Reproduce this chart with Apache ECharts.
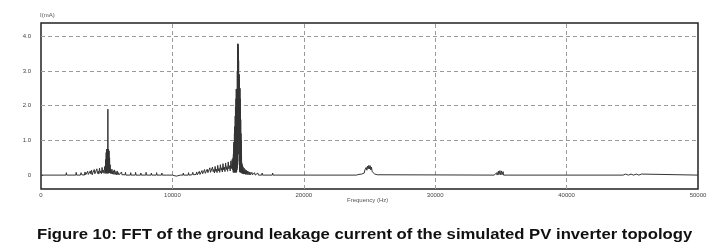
<!DOCTYPE html>
<html>
<head>
<meta charset="utf-8">
<script src="https://cdn.jsdelivr.net/npm/echarts@6/dist/echarts.min.js"></script>
<style>
html,body{margin:0;padding:0;background:#fff;}
#c{width:717px;height:251px;}
</style>
</head>
<body>
<div id="c"></div>
<script>
// Spectrum segments: [frequency (Hz), amplitude]
var noiseLow = [
[0,0],[1900,0],[1930,0.07],[1960,0],[2650,0],[2680,0.08],[2710,0],[3000,0],
[3050,0.07],[3100,0.01],[3150,0.03],[3200,0],[3300,0],[3350,0.09],[3400,0.01],[3450,0.04],[3500,0.01],
[3550,0.11],[3600,0.02],[3650,0.05],[3700,0.01],[3750,0.12],[3800,0.03],[3850,0.14],[3900,0.01],[3950,0.07],
[4000,0.02],[4050,0.16],[4100,0.04],[4150,0.09],[4200,0.02],[4250,0.18],[4300,0.05],[4350,0.11],[4400,0.03],
[4450,0.20],[4500,0.06],[4550,0.12],[4600,0.04],[4650,0.22],[4700,0.07],[4750,0.14],[4800,0.05],[4850,0.25]
];
var peak5k = [
[4880,0.30],[4900,0.05],[4920,0.45],[4940,0.08],[4960,0.65],[4980,0.05],[5000,0.75],[5020,0.08],[5040,0.75],
[5060,0.05],[5080,0.74],[5090,1.90],[5100,0.75],[5120,0.05],[5140,0.75],[5160,0.08],[5180,0.70],[5200,0.06],
[5220,0.50],[5240,0.08],[5260,0.30],[5280,0.05],[5300,0.18]
];
var noiseMid = [
[5350,0.04],[5400,0.17],[5450,0.03],[5500,0.13],[5550,0.02],[5600,0.15],[5650,0.02],[5700,0.10],[5750,0.01],
[5800,0.12],[5850,0.01],[5900,0.07],[5950,0.01],[6100,0.01],[6130,0.09],[6160,0.01],[6400,0.01],[6430,0.08],
[6460,0],[6800,0],[6830,0.07],[6860,0],[7170,0],[7200,0.08],[7230,0],[7570,0],[7600,0.06],[7630,0],[7970,0],
[8000,0.08],[8030,0],[8370,0],[8400,0.06],[8430,0],[8770,0],[8800,0.07],[8830,0],[9170,0],[9200,0.06],[9230,0],
[9570,0],[9600,0.05],[9630,0],[10000,0],[10300,-0.03],[10600,0],[10800,0],[10830,0.06],[10860,0],[11200,0],
[11230,0.07],[11260,0],[11500,0.01],[11550,0.08],[11600,0.01],[11800,0.02],[11850,0.09],[11900,0.01],[12000,0.03],
[12050,0.11],[12100,0.02],[12150,0.05],[12200,0.01],[12250,0.13],[12300,0.04],[12350,0.07],[12400,0.02],[12450,0.16],
[12500,0.05],[12550,0.09],[12600,0.03],[12650,0.17],[12700,0.07],[12750,0.12],[12800,0.04],[12850,0.21],[12900,0.08],
[12950,0.13],[13000,0.05],[13050,0.23],[13100,0.10],[13150,0.16],[13200,0.06],[13250,0.25],[13300,0.11],[13350,0.17],
[13400,0.07],[13450,0.28],[13500,0.12],[13550,0.19],[13600,0.08],[13650,0.30],[13700,0.14],[13750,0.21],[13800,0.09],
[13850,0.33],[13900,0.15],[13950,0.23],[14000,0.10],[14050,0.35],[14100,0.16],[14150,0.25],[14200,0.11],[14250,0.38],
[14300,0.18],[14350,0.27],[14400,0.12],[14450,0.41],[14500,0.19],[14550,0.45],[14590,0.15]
];
var peak15k = [
[14620,0.50],[14630,0.08],[14640,0.60],[14650,0.10],[14660,0.75],[14670,0.08],[14680,0.95],[14690,0.10],[14700,0.90],
[14710,0.08],[14720,1.20],[14730,0.10],[14740,1.40],[14750,0.08],[14760,1.35],[14770,0.10],[14780,1.70],[14790,0.08],
[14800,1.96],[14810,0.10],[14820,1.90],[14830,0.08],[14840,2.20],[14850,0.10],[14860,2.48],[14870,0.08],[14880,2.45],
[14890,0.10],[14900,2.48],[14910,0.15],[14920,2.45],[14930,0.20],[14940,3.00],[14950,0.30],[14960,3.78],[14970,0.40],
[14980,3.75],[14990,0.60],[15000,3.78],[15010,1.00],[15020,3.60],[15030,1.05],[15040,3.30],[15050,1.00],[15060,2.90],
[15070,0.60],[15080,2.90],[15090,0.30],[15100,2.70],[15110,0.15],[15120,2.50],[15130,0.10],[15140,2.50],[15150,0.08],
[15160,2.20],[15170,0.10],[15180,1.96],[15190,0.08],[15200,1.60],[15210,0.10],[15220,1.20],[15230,0.08],[15240,1.00],
[15250,0.10],[15260,0.60],[15270,0.08],[15280,0.35],[15290,0.05]
];
var noiseHigh = [
[15320,0.30],[15350,0.04],[15380,0.24],[15420,0.03],[15460,0.20],[15500,0.03],[15540,0.16],[15580,0.02],[15620,0.14],
[15660,0.02],[15700,0.12],[15750,0.01],[15800,0.10],[15850,0.01],[15900,0.09],[15950,0.01],[16050,0.08],[16100,0.01],
[16250,0.07],[16300,0],[16500,0.06],[16550,0],[16800,0],[16830,0.06],[16860,0],[17200,0],[17230,0.05],[17260,0],
[17600,0],[17630,0.06],[17660,0],[17900,0],[17930,0.05],[17960,0],[24000,0]
];
var bump25k = [
[24050,0.03],[24100,0.01],[24150,0.04],[24200,0.02],[24250,0.05],[24300,0.02],[24350,0.05],[24400,0.03],[24450,0.06],
[24500,0.04],[24550,0.08],[24600,0.06],[24650,0.15],[24700,0.10],[24750,0.22],[24800,0.14],[24850,0.26],[24900,0.18],
[24950,0.28],[25000,0.18],[25050,0.27],[25100,0.15],[25150,0.23],[25200,0.10],[25250,0.15],[25300,0.05],[25350,0.07],
[25400,0.03],[25450,0.06],[25500,0.02],[25550,0.04],[25600,0.01],[25650,0],[34500,0]
];
var bump35k = [
[34530,0.04],[34560,0],[34650,0],[34680,0.07],[34710,0],[34780,0],[34810,0.11],[34840,0.01],[34900,0.01],
[34930,0.13],[34960,0.01],[35020,0.01],[35050,0.12],[35080,0.01],[35140,0.01],[35170,0.10],[35200,0],[35250,0],
[35280,0.05],[35310,0],[35480,0],[35510,0.04],[35540,0],[44300,0]
];
var bump45k = [
[44320,0.03],[44500,0.03],[44520,0],[44700,0],[44720,0.03],[44900,0.03],[44920,0],[45100,0],[45120,0.03],
[45300,0.03],[45320,0],[45500,0],[45520,0.03],[45700,0.03],[45720,0],[50000,0]
];
// Tick labels
var xTicks = [0,10000,20000,30000,40000,50000];
var xTickLabels = ["0","10000","20000","30000","40000","50000"];
var yTicks = [0,1,2,3,4];
var yTickLabels = ["0","1.0","2.0","3.0","4.0"];
var xGrid = [10000,20000,30000,40000];
var yGrid = [1,2,3,4];

var data = [].concat(noiseLow, peak5k, noiseMid, peak15k, noiseHigh, bump25k, bump35k, bump45k);
var chart = echarts.init(document.getElementById('c'), null, {renderer:'canvas'});
var gridLines = [];
xGrid.forEach(function(v){gridLines.push({xAxis:v});});
yGrid.forEach(function(v){gridLines.push({yAxis:v});});

chart.setOption({
  animation:false,
  backgroundColor:'#fff',
  grid:{left:41,top:23,right:19,bottom:62,show:true,borderColor:'#222',borderWidth:1.5,backgroundColor:'transparent'},
  xAxis:{type:'value',min:0,max:50000,interval:10000,
    axisLine:{show:false},axisTick:{show:false},splitLine:{show:false},
    axisLabel:{fontSize:6,color:'#444',margin:3,fontFamily:'Liberation Sans',
      formatter:function(v){var i=xTicks.indexOf(v);return i>=0?xTickLabels[i]:'';}}},
  yAxis:{type:'value',min:-0.4,max:4.38,
    axisLine:{show:false},splitLine:{show:false},
    axisTick:{show:true,inside:true,length:2,lineStyle:{color:'#555'},customValues:yTicks},
    axisLabel:{fontSize:6,color:'#444',margin:10,fontFamily:'Liberation Sans',customValues:yTicks,
      formatter:function(v){var i=yTicks.indexOf(v);return i>=0?yTickLabels[i]:'';}}},
  series:[{
    type:'line',data:data,symbol:'none',showSymbol:false,
    lineStyle:{color:'#333',width:1},
    z:3,
    markLine:{silent:true,symbol:['none','none'],label:{show:false},
      lineStyle:{color:'#9a9a9a',type:[4,3],width:1},
      data:gridLines, z:1}
  }],
  graphic:[
    {type:'text',left:40,top:12,style:{text:'I(mA)',font:'6px "Liberation Sans"',fill:'#555'}},
    {type:'text',left:347,top:197,style:{text:'Frequency (Hz)',font:'6px "Liberation Sans"',fill:'#555'}},
    {type:'text',x:37,y:227,scaleX:1.112,style:{text:'Figure 10: FFT of the ground leakage current of the simulated PV inverter topology',font:'bold 15px "Liberation Sans"',fill:'#111',textVerticalAlign:'top'}}
  ]
});
</script>
</body>
</html>
